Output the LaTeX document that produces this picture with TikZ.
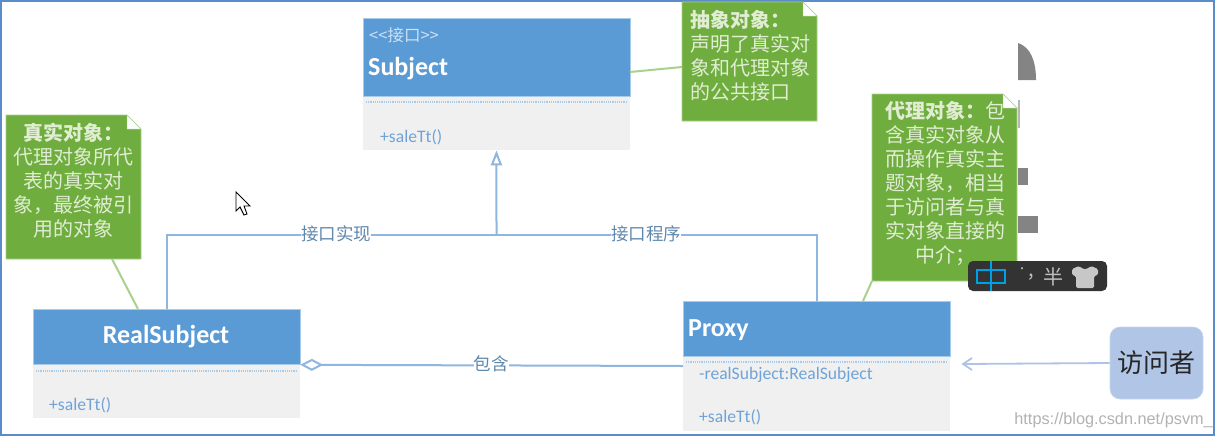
\documentclass[tikz,border=0pt]{standalone}
\usepackage{fontspec}
\setmainfont{Carlito}
\newfontfamily\cjk{Noto Sans CJK SC}
\newfontfamily\wm{Liberation Sans}
\usetikzlibrary{arrows.meta}
\definecolor{hdr}{HTML}{5B9BD5}
\definecolor{hdredge}{HTML}{A9CBEA}
\definecolor{bodyc}{HTML}{F0F0F0}
\definecolor{linec}{HTML}{8FB6DF}
\definecolor{labc}{HTML}{5F88AE}
\definecolor{memc}{HTML}{6FA3D8}
\definecolor{notec}{HTML}{70AD3F}
\definecolor{noteedge}{HTML}{A9D18E}
\definecolor{notetx}{HTML}{E0EDD3}
\definecolor{framec}{HTML}{5B8BC9}
\definecolor{visc}{HTML}{B1C5E7}
\definecolor{visln}{HTML}{AEC3E6}
\definecolor{greyb}{HTML}{848484}
\definecolor{imec}{HTML}{333333}
\definecolor{imeblue}{HTML}{00A0E9}
\tikzset{
  x=1pt,y=-1pt,
  header/.style={draw=hdredge,line width=.8pt,fill=hdr,anchor=north west,inner sep=0pt,minimum width=266.5pt},
  classbody/.style={fill=bodyc,anchor=north west,inner sep=0pt,minimum width=266.5pt},
  classname/.style={text=white,font=\fontsize{26}{28}\selectfont\bfseries,inner sep=0pt},
  member/.style={text=memc,font=\fontsize{17.6}{19}\selectfont,inner sep=0pt,anchor=west},
  divider/.style={draw=hdredge,line width=1.2pt,densely dotted},
  conn/.style={draw=linec,line width=2pt},
  edgelabel/.style={fill=white,text=labc,font=\cjk\fontsize{17.5}{19}\selectfont,inner sep=0pt},
  notelink/.style={draw=noteedge,line width=2pt},
  notetext/.style={text=notetx,font=\cjk\fontsize{20}{24}\selectfont,inner sep=0pt},
  imetext/.style={text=white!75!black,inner sep=0pt},
}
\newcommand{\notepage}[5]{% name,x1,y1,x2,y2
  \fill[notec,draw=noteedge,line width=.6pt] (#2,#3) -- (#4-14,#3) -- (#4,#3+14) -- (#4,#5) -- (#2,#5) -- cycle;
  \fill[white,draw=noteedge,line width=.4pt] (#4-14,#3) -- (#4,#3+14) -- (#4-14,#3+14) -- cycle;
  \coordinate (#1) at (#2,#3);
}
\begin{document}
\begin{tikzpicture}
\useasboundingbox (0,0) rectangle (1217,437);
\fill[white] (0,0) rectangle (1217,437);
\draw[framec,line width=2pt] (1,1) rectangle (1214,435);

% grey leftovers
\fill[greyb] (1018,43) .. controls (1030,47) and (1036,60) .. (1036,80) -- (1018,80) -- cycle;
\fill[greyb] (1018,168) rectangle (1028,185);
\fill[greyb] (1018,216) rectangle (1038,233);
\fill[greyb!60] (1018,100) rectangle (1020,128);

% classes
\node[classbody,minimum height=54pt] (sb) at (363,96) {};
\node[header,minimum height=78pt] (s) at (363,18) {};
\node[classbody,minimum height=54pt] (rb) at (33,364) {};
\node[header,minimum height=55pt] (r) at (33,309) {};
\node[classbody,minimum height=75pt] (pb) at (683,356) {};
\node[header,minimum height=55pt] (p) at (683,301) {};

\draw[divider] (366,102) -- (627,102);
\draw[divider] (36,371) -- (297,371);
\draw[divider] (686,362) -- (946,362);

\node[text=hdredge!60!white,font=\cjk\fontsize{16.5}{18}\selectfont,inner sep=0pt,anchor=west] (st) at (369,35) {<<接口>>};
\node[classname,anchor=west] (sn) at (368,69) {Subject};
\node[classname] (rn) at (166,337) {RealSubject};
\node[classname,anchor=west] (pn) at (688,330) {Proxy};
\node[member] (sm) at (380,137) {+saleTt()};
\node[member] (rm) at (49,405) {+saleTt()};
\node[member] (pa) at (699,375) {-realSubject:RealSubject};
\node[member] (pm) at (699,417) {+saleTt()};

% notes
\notepage{n1}{682}{2}{817}{121}
\notepage{n2}{6}{115}{141}{259}
\notepage{n3}{872}{94}{1017}{281}
\node[notetext,anchor=north west,align=left] (n1t) at (690,10) {\textbf{抽象对象：}\\声明了真实对\\象和代理对象\\的公共接口};
\node[notetext,anchor=north,align=center] (n2t) at (73.5,123) {\textbf{真实对象：}\\代理对象所代\\表的真实对\\象，最终被引\\用的对象};
\node[notetext,anchor=north,align=center] (n3t) at (945,101) {\textbf{代理对象：}包\\含真实对象从\\而操作真实主\\题对象，相当\\于访问者与真\\实对象直接的\\中介；};

\coordinate (c1a) at (630,72); \coordinate (c1b) at (682,67);
\coordinate (c2a) at (112,259); \coordinate (c2b) at (138,309);
\coordinate (c3a) at (872,281); \coordinate (c3b) at (863,301);
\draw[notelink] (c1a) -- (c1b);
\draw[notelink] (c2a) -- (c2b);
\draw[notelink] (c3a) -- (c3b);

% connectors
\coordinate (j) at (496.5,234.5);
\draw[conn] (r.north) |- (j) -| (p.north);
\draw[conn,-{Triangle[open,fill=white,length=15pt,width=11pt,line width=2pt]}] (j) -- (sb.south);
\node[edgelabel] (l1) at (336,234) {接口实现};
\node[edgelabel] (l2) at (646,234) {接口程序};

\coordinate (da) at (r.south east);
\coordinate (pl) at (683,366);
\draw[conn,{Diamond[open,fill=white,length=23pt,width=12pt,line width=2pt]}-] (da) -- (pl);
\node[edgelabel] (l3) at (491,364) {包含};

% visitor
\node[fill=visc,draw=visc!70!white,line width=.6pt,rounded corners=10pt,minimum width=93pt,minimum height=72pt,inner sep=0pt,text=black!85,font=\cjk\fontsize{26}{28}\selectfont] (v) at (1156.5,363) {访问者};
\coordinate (ah) at (963,364);
\coordinate (ah1) at (972,358);
\coordinate (ah2) at (972,370);
\draw[draw=visln,line width=1.8pt] (v.west) -- (ah);
\draw[draw=visln,line width=1.8pt] (ah1) -- (ah) -- (ah2);

% IME bar
\fill[imec,rounded corners=5pt] (968,261) rectangle (1107,291);
\node[imetext,font=\cjk\fontsize{20}{22}\selectfont] (ime) at (1053,277) {半};
\node[imetext,font=\cjk\fontsize{20}{22}\selectfont] (imec) at (1031,277) {,};
\node[imetext,font=\cjk\fontsize{10}{10}\selectfont] (imed) at (1022,270) {·};
\draw[draw=imeblue,line width=2pt] (977,270) rectangle (1005,283);
\draw[draw=imeblue,line width=2pt] (990.5,261) -- (990.5,291);
\fill[white!78!black,rounded corners=1.5pt] (1072,269) -- (1079,266) -- (1083,269) -- (1087,269) -- (1091,266) -- (1098,269) -- (1098,275) -- (1094,276) -- (1094,288) -- (1076,288) -- (1076,276) -- (1072,275) -- cycle;

% mouse cursor
\draw[fill=white,draw=black,line width=.9pt] (236,192) -- (236,211) -- (240,207) -- (244,215) -- (247,214) -- (244,206) -- (250,206) -- cycle;

% watermark
\node[text=black!30,font=\wm\fontsize{16.3}{18}\selectfont,inner sep=0pt,anchor=east] (w) at (1213,420) {https://blog.csdn.net/psvm\_};
\end{tikzpicture}
\end{document}
